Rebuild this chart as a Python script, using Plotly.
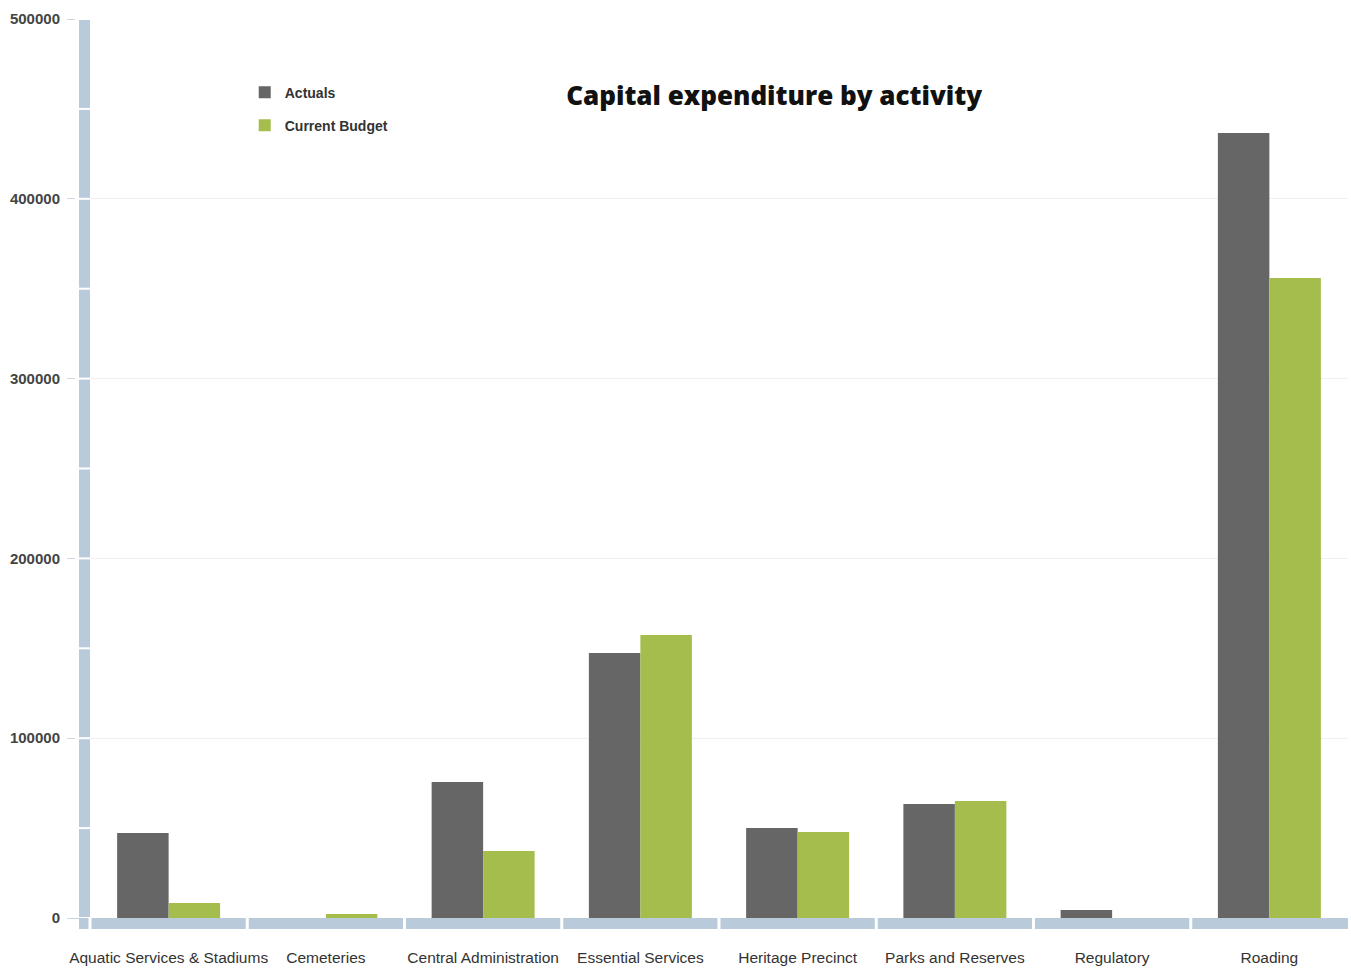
import plotly.graph_objects as go

categories = ["Aquatic Services & Stadiums", "Cemeteries", "Central Administration",
              "Essential Services", "Heritage Precinct", "Parks and Reserves",
              "Regulatory", "Roading"]
actuals = [47300, 0, 75600, 147400, 50100, 63400, 4500, 436600]
current_budget = [8300, 2200, 37300, 157400, 47800, 65100, 0, 356000]
y_ticks = [0, 100000, 200000, 300000, 400000, 500000]

AXIS_BLUE = "#b9cadb"

fig = go.Figure()
fig.add_trace(go.Bar(name="Actuals", x=categories, y=actuals,
                     marker=dict(color="#666666", line=dict(width=0)),
                     legendgroup="a"))
fig.add_trace(go.Bar(name="Current Budget", x=categories, y=current_budget,
                     marker=dict(color="#a4bd4d", line=dict(width=0)),
                     legendgroup="b"))

shapes = []
# white breaks in the thick y-axis bar every 50000
for k in range(0, 11):
    shapes.append(dict(type="line", xref="paper", yref="y",
                       x0=-0.012, x1=0.0, y0=k * 50000, y1=k * 50000,
                       line=dict(color="white", width=2), layer="above"))
# white breaks in the thick x-axis bar at category boundaries
for i in range(len(categories) - 1):
    shapes.append(dict(type="line", xref="x", yref="paper",
                       x0=i + 0.5, x1=i + 0.5, y0=-0.02, y1=0.0,
                       line=dict(color="white", width=3), layer="above"))
# corner break
shapes.append(dict(type="line", xref="paper", yref="paper",
                   x0=0.0, x1=0.0, y0=-0.02, y1=0.0,
                   line=dict(color="white", width=3), layer="above"))

fig.update_layout(
    width=1351, height=968,
    margin=dict(l=90, r=3, t=19, b=50),
    paper_bgcolor="white", plot_bgcolor="white",
    barmode="group", bargap=0.345, bargroupgap=0,
    font=dict(family="Liberation Sans, Arial, sans-serif", color="#333333"),
    title=dict(text="Capital expenditure by activity",
               font=dict(family="Open Sans, sans-serif", size=26, color="#111111", weight=800),
               x=0.573, xanchor="center", xref="container",
               y=1 - 96 / 968, yanchor="middle", yref="container"),
    legend=dict(x=0.123, y=0.936, xanchor="left", yanchor="top",
                font=dict(size=14, color="#333333", weight="bold"),
                tracegroupgap=12, bgcolor="rgba(0,0,0,0)"),
    xaxis=dict(showline=True, linewidth=11, linecolor=AXIS_BLUE,
               showgrid=False, ticks="", ticklabelstandoff=15,
               automargin=False,
               tickfont=dict(size=15.5, color="#333333")),
    yaxis=dict(range=[0, 500000], tickvals=y_ticks,
               ticktext=[str(v) for v in y_ticks],
               showline=True, linewidth=11, linecolor=AXIS_BLUE,
               showgrid=True, gridcolor="#f0f0f0", gridwidth=1,
               ticks="outside", ticklen=12, tickcolor="#c9d5e1", tickwidth=1,
               zeroline=False, automargin=False, ticklabelstandoff=4,
               tickfont=dict(size=15, color="#444444", weight="bold")),
    shapes=shapes,
)

fig.write_html("out.html")
